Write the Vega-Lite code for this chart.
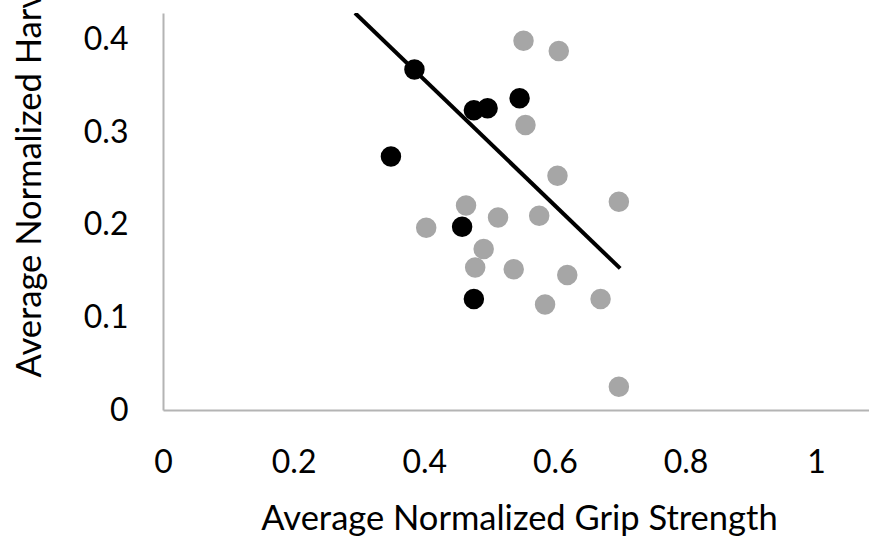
{
  "$schema": "https://vega.github.io/schema/vega-lite/v6.json",
  "autosize": {"type": "none"},
  "padding": {"left": 163, "top": 13, "right": 0, "bottom": 126},
  "width": 706,
  "height": 397,
  "background": "white",
  "config": {
    "view": {"stroke": null},
    "font": "Lato",
    "axis": {
      "grid": false,
      "ticks": false,
      "domainColor": "#b4b4b4",
      "domainWidth": 2,
      "labelFont": "Lato",
      "labelFontSize": 32,
      "labelColor": "#000000",
      "titleFont": "Lato",
      "titleFontSize": 34.5,
      "titleFontWeight": "normal",
      "titleColor": "#000000"
    }
  },
  "datasets": {
    "pts": [
      {"grip": 0.385, "harv": 0.368, "group": "A"},
      {"grip": 0.349, "harv": 0.274, "group": "A"},
      {"grip": 0.476, "harv": 0.324, "group": "A"},
      {"grip": 0.497, "harv": 0.326, "group": "A"},
      {"grip": 0.546, "harv": 0.337, "group": "A"},
      {"grip": 0.458, "harv": 0.198, "group": "A"},
      {"grip": 0.476, "harv": 0.120, "group": "A"},
      {"grip": 0.552, "harv": 0.399, "group": "B"},
      {"grip": 0.606, "harv": 0.388, "group": "B"},
      {"grip": 0.555, "harv": 0.308, "group": "B"},
      {"grip": 0.604, "harv": 0.253, "group": "B"},
      {"grip": 0.698, "harv": 0.225, "group": "B"},
      {"grip": 0.464, "harv": 0.221, "group": "B"},
      {"grip": 0.513, "harv": 0.208, "group": "B"},
      {"grip": 0.576, "harv": 0.210, "group": "B"},
      {"grip": 0.403, "harv": 0.197, "group": "B"},
      {"grip": 0.491, "harv": 0.174, "group": "B"},
      {"grip": 0.478, "harv": 0.154, "group": "B"},
      {"grip": 0.537, "harv": 0.152, "group": "B"},
      {"grip": 0.619, "harv": 0.146, "group": "B"},
      {"grip": 0.585, "harv": 0.114, "group": "B"},
      {"grip": 0.670, "harv": 0.120, "group": "B"},
      {"grip": 0.698, "harv": 0.025, "group": "B"}
    ],
    "trend": [
      {"grip": 0.294, "harv": 0.429},
      {"grip": 0.700, "harv": 0.153}
    ]
  },
  "layer": [
    {
      "data": {"name": "pts"},
      "mark": {"type": "circle", "size": 420, "opacity": 1},
      "encoding": {
        "x": {
          "field": "grip", "type": "quantitative",
          "scale": {"domain": [0, 1.081], "nice": false, "zero": false},
          "axis": {
            "values": [0, 0.2, 0.4, 0.6, 0.8, 1],
            "labelExpr": "datum.value == 0 ? '0' : datum.value == 1 ? '1' : format(datum.value, '.1f')",
            "labelBaseline": "alphabetic",
            "labelPadding": 62,
            "labelFlush": false,
            "title": "Average Normalized Grip Strength",
            "titleAnchor": "start",
            "titleAlign": "center",
            "titleX": 356,
            "titleY": 119,
            "titleBaseline": "alphabetic"
          }
        },
        "y": {
          "field": "harv", "type": "quantitative",
          "scale": {"domain": [0, 0.429], "nice": false, "zero": false},
          "axis": {
            "values": [0, 0.1, 0.2, 0.3, 0.4],
            "labelExpr": "datum.value == 0 ? '0' : format(datum.value, '.1f')",
            "labelPadding": 35,
            "labelFlush": false,
            "title": "Average Normalized Harvest Rate",
            "titleAngle": -90,
            "titleAlign": "left",
            "titleBaseline": "middle",
            "titleX": -133,
            "titleY": 364
          }
        },
        "color": {
          "field": "group", "type": "nominal",
          "scale": {"domain": ["A", "B"], "range": ["#000000", "#a6a6a6"]},
          "legend": null
        }
      }
    },
    {
      "data": {"name": "trend"},
      "mark": {"type": "line", "color": "#000000", "strokeWidth": 4, "clip": true},
      "encoding": {
        "x": {"field": "grip", "type": "quantitative"},
        "y": {"field": "harv", "type": "quantitative"}
      }
    }
  ]
}
